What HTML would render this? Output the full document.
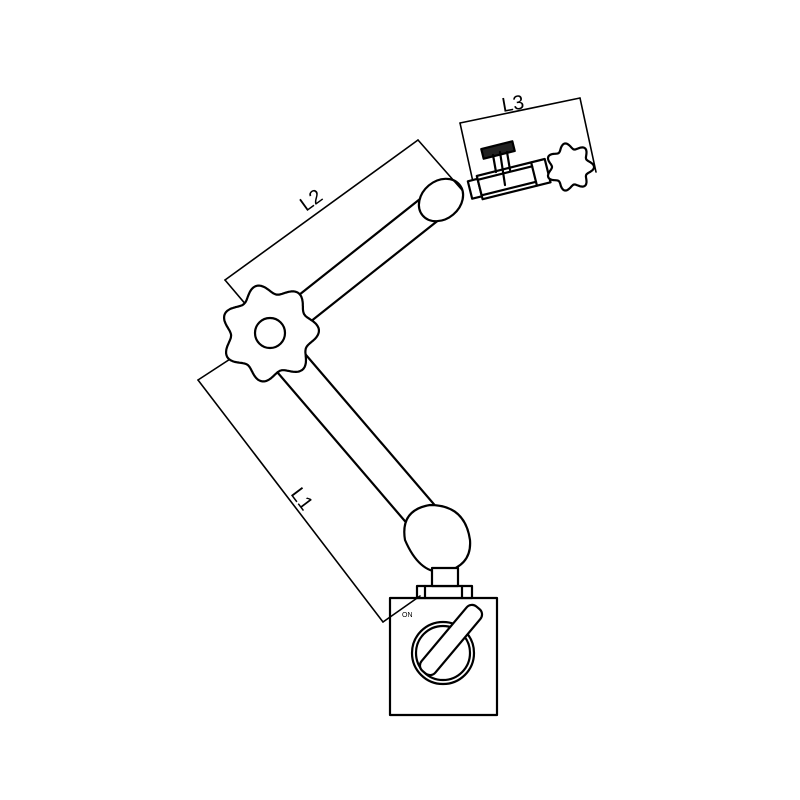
<!DOCTYPE html>
<html><head><style>html,body{margin:0;padding:0;background:#fff}svg{display:block}</style></head>
<body>
<svg id="s" width="800" height="800" viewBox="0 0 800 800" xmlns="http://www.w3.org/2000/svg" fill="none" stroke="#000" stroke-width="2.2" stroke-linejoin="round" stroke-linecap="round">
<g id="arms"></g>
<!-- base -->
<rect x="390" y="598" width="107" height="117" fill="#fff"/>
<rect x="417" y="586" width="55" height="12" fill="#fff"/>
<line x1="425" y1="586" x2="425" y2="598"/><line x1="462" y1="586" x2="462" y2="598"/>
<rect x="432" y="568" width="26" height="18" fill="#fff"/>
<circle cx="443" cy="653" r="31"/><circle cx="443" cy="653" r="27"/>
<g transform="translate(451,640) rotate(-50)"><rect x="-42" y="-9" width="84" height="18" rx="7" fill="#fff"/></g>
<text x="402" y="617" font-family="Liberation Sans, sans-serif" font-size="7" fill="#000" stroke="none">ON</text>
<!-- dimension lines -->
<g stroke-width="1.6">
<line x1="198" y1="380" x2="383" y2="622"/><line x1="198" y1="380" x2="270" y2="333"/><line x1="383" y1="622" x2="420" y2="596"/>
<line x1="225" y1="280" x2="418" y2="140"/><line x1="225" y1="280" x2="270" y2="333"/><line x1="418" y1="140" x2="462" y2="190"/>
<line x1="460" y1="123" x2="580" y2="98"/><line x1="460" y1="123" x2="473" y2="182"/><line x1="580" y1="98" x2="596" y2="172"/>
</g>
<g font-family="Liberation Sans, sans-serif" font-size="20" fill="#000" stroke="none">
<text transform="translate(290,494) rotate(53)">L1</text>
<text transform="translate(306,212) rotate(-36)">L2</text>
<text transform="translate(503,112) rotate(-10)">L3</text>
</g>
</svg>
<script>
const NS="http://www.w3.org/2000/svg",s=document.getElementById('s'),arms=document.getElementById('arms');
function el(t,a,p){const e=document.createElementNS(NS,t);for(const k in a)e.setAttribute(k,a[k]);(p||s).appendChild(e);return e;}
function arm(x1,y1,x2,y2,w){el('line',{x1,y1,x2,y2,'stroke-width':w+2.2,stroke:'#000'},arms);el('line',{x1,y1,x2,y2,'stroke-width':w-2.2,stroke:'#fff'},arms);}
arm(280,350,430,525,33);arm(290,320,435,205,28);
function star(cx,cy,R,a,n,rot){let d='';for(let i=0;i<=360;i++){const t=i*Math.PI/180;const r=R+a*Math.cos(n*t+rot);d+=(i?'L':'M')+(cx+r*Math.cos(t)).toFixed(1)+','+(cy+r*Math.sin(t)).toFixed(1);}return d+'Z';}
el('path',{d:'M405,540 Q400,510 430,505 Q465,505 470,540 Q472,565 445,572 Q420,575 405,540Z',fill:'#fff'},arms);
el('g',{transform:'translate(441,200) rotate(-40)'},arms).innerHTML='<ellipse cx="0" cy="0" rx="24" ry="19" fill="#fff"/>';
s.insertAdjacentHTML('beforeend','<g transform="translate(470,190) rotate(-14)"><rect x="0" y="-9" width="10" height="18" fill="#fff"/><rect x="10" y="-12" width="70" height="24" fill="#fff"/><line x1="10" y1="-8" x2="66" y2="-8"/><line x1="10" y1="8" x2="66" y2="8"/><line x1="66" y1="-12" x2="66" y2="12"/></g><rect x="482" y="145" width="32" height="10" fill="#222" transform="rotate(-14 498 150)"/><line x1="500" y1="152" x2="505" y2="185"/><line x1="493" y1="155" x2="496" y2="172"/><line x1="507" y1="152" x2="510" y2="170"/>');
el('path',{d:star(570,167,21,3,7,0),fill:'#fff'});
el('path',{d:star(270,333,44,5,7,0.4),fill:'#fff'});
el('circle',{cx:270,cy:333,r:15,fill:'#fff'});
</script>
</body></html>
